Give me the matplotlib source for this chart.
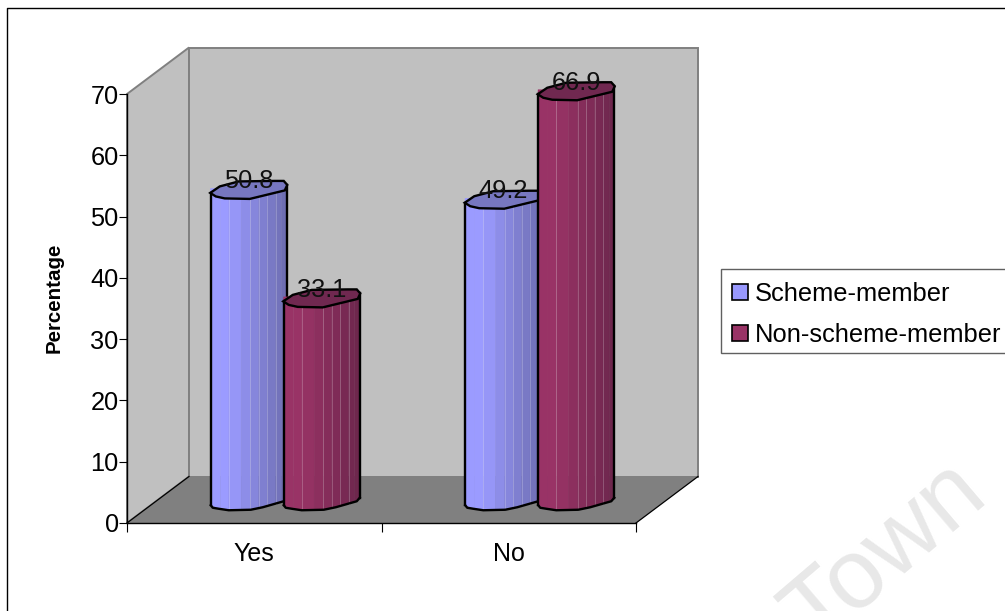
import numpy as np
import matplotlib
matplotlib.use('Agg')
import matplotlib.pyplot as plt
from matplotlib.lines import Line2D
from matplotlib.patches import Patch, Polygon, Rectangle

# Percentages per answer
categories = ['Yes', 'No']
scheme_member = [50.8, 49.2]
non_scheme_member = [33.1, 66.9]
y_ticks = [0, 10, 20, 30, 40, 50, 60, 70]
series_names = ['Scheme-member', 'Non-scheme-member']

plt.rcParams['font.family'] = ['Liberation Sans', 'DejaVu Sans']
W, H = 1005, 611
fig = plt.figure(figsize=(W / 100, H / 100), dpi=100, facecolor='white')


def fx(px):
    return px / W


def fy(py):
    return 1 - py / H


# Outer border of the chart area, runs off the right and bottom edges
fig.add_artist(Line2D([fx(7), fx(7), 1], [0, fy(8), fy(8)], color='black', lw=1.0))

fig.text(fx(815), fy(648), 'Town', fontsize=71, color='#e8e8e8', rotation=40.5,
         rotation_mode='anchor', ha='left', va='baseline', zorder=-5)

ax = fig.add_axes([fx(127), fy(523), fx(509), 429 / H])
ax.set_xlim(0, 2)
ax.set_ylim(0, 70)
ax.patch.set_visible(False)

# Screen pixels to data units
px_x = 2 / 509
px_y = 70 / 429
depth_x = 62 * px_x
depth_y = 46.5 * px_y

# Side wall, back wall, floor
wall = '#c0c0c0'
edge = '#808080'
ax.add_patch(Polygon([(0, 0), (depth_x, depth_y), (depth_x, 70 + depth_y), (0, 70)],
                     fc=wall, ec=edge, lw=1.4, clip_on=False, zorder=1))
ax.add_patch(Polygon([(depth_x, depth_y), (2 + depth_x, depth_y),
                      (2 + depth_x, 70 + depth_y), (depth_x, 70 + depth_y)],
                     fc=wall, ec=edge, lw=1.4, clip_on=False, zorder=1))
ax.add_patch(Polygon([(0, 0), (2, 0), (2 + depth_x, depth_y), (depth_x, depth_y)],
                     fc='#808080', ec='none', clip_on=False, zorder=2))
ax.plot([0, depth_x], [0, depth_y], color='black', lw=0.9, clip_on=False, zorder=2.1)
ax.plot([2, 2 + depth_x], [0, depth_y], color='black', lw=0.9, clip_on=False, zorder=2.1)

# Faceted outline of the cylinder end, offsets in pixels around the centre
cap_dx = np.array([-38.5, -33, -24, 1, 36, 38.5, 35, 26, -10, -29])
cap_dy = np.array([4.5, 8, 10, 10.5, 2, -3.5, -7.5, -7.5, -7, -2])
base_dx = np.array([-38, -36, -30, -20, 2, 14, 35, 38])
base_dy = np.array([5.5, 8, 9, 10.5, 10, 7.5, 1.5, -2])

# Shading bands across the cylinder
band_edges = np.array([0, .13, .24, .40, .52, .63, .74, .85, .93, 1]) * 76.5 - 38.25
# Only some band borders catch the light
bright_bands = [2, 4, 5, 6, 7]


def shade(light, dark, t):
    light, dark = np.array(light), np.array(dark)
    return tuple((light + (dark - light) * t) / 255)


def draw_cylinder(x, value, light, dark, top_color, z):
    cx = x + depth_x / 2
    cy = value + depth_y / 2
    by = depth_y / 2
    for k in range(len(band_edges) - 1):
        x0, x1 = band_edges[k], band_edges[k + 1]
        y0, y1 = [np.interp(v, base_dx, base_dy) for v in (x0, x1)]
        t = max(0.0, ((x0 + x1) / 2 + 20) / 58)
        ax.add_patch(Polygon([(cx + x0 * px_x, cy), (cx + x1 * px_x, cy),
                              (cx + x1 * px_x, by - y1 * px_y), (cx + x0 * px_x, by - y0 * px_y)],
                             fc=shade(light, dark, t), ec=shade(light, dark, t), lw=0.3,
                             clip_on=False, zorder=z))
        if k in bright_bands:
            ax.plot([cx + x0 * px_x] * 2, [cy, by - y0 * px_y], color=(1, 1, 1, 0.22),
                    lw=0.7, clip_on=False, zorder=z + 0.1)
    # Silhouette of the body, then the end cap on top of it
    ax.plot(cx + base_dx * px_x, by - base_dy * px_y, color='black', lw=1.7,
            clip_on=False, zorder=z + 0.2, solid_joinstyle='round')
    ax.plot([cx + base_dx[0] * px_x] * 2, [by - base_dy[0] * px_y, cy - 4.5 * px_y],
            color='black', lw=1.7, clip_on=False, zorder=z + 0.2)
    ax.plot([cx + base_dx[-1] * px_x] * 2, [by - base_dy[-1] * px_y, cy + 3.5 * px_y],
            color='black', lw=1.7, clip_on=False, zorder=z + 0.2)
    ax.add_patch(Polygon(np.column_stack([cx + cap_dx * px_x, cy - cap_dy * px_y]),
                         fc=top_color, ec='black', lw=1.7, clip_on=False, zorder=z + 0.3))
    ax.text(cx, value + depth_y / 2 + 7 * px_y, f'{value:.1f}', ha='center', va='center',
            fontsize=18.3, color='#111111', zorder=20, clip_on=False)


blue = dict(light=(155, 155, 255), dark=(108, 108, 176), top_color='#7777c0')
maroon = dict(light=(153, 51, 102), dark=(108, 38, 76), top_color='#702850')
bar_shift = 36.5 * px_x

for i in range(len(categories)):
    draw_cylinder(i + 0.5 - bar_shift, scheme_member[i], z=5 + 2 * i, **blue)
    draw_cylinder(i + 0.5 + bar_shift, non_scheme_member[i], z=6 + 2 * i, **maroon)

for side in ['top', 'right']:
    ax.spines[side].set_visible(False)
for side in ['left', 'bottom']:
    ax.spines[side].set_color('black')
    ax.spines[side].set_linewidth(1.0)
    ax.spines[side].set_zorder(3)

ax.set_yticks(y_ticks)
ax.set_xticks([0, 1, 2])
ax.set_xticklabels([])
ax.set_xticks([0.5, 1.5], minor=True)
ax.set_xticklabels(categories, minor=True, fontsize=18)
ax.tick_params(axis='x', which='major', length=6.5, width=0.8)
ax.tick_params(axis='x', which='minor', length=0, pad=14)
ax.tick_params(axis='y', length=6, width=0.8, pad=0, labelsize=18.3)
ax.set_ylabel('Percentage', fontsize=14.8, fontweight='bold')
ax.yaxis.set_label_coords((54 - 127) / 509, (523 - 298) / 429)
ax.yaxis.label.set_va('center')

# Legend box runs past the right edge, so it is drawn on its own
fig.add_artist(Rectangle((fx(721), fy(353)), fx(300), (353 - 269) / H, transform=fig.transFigure,
                         fc='white', ec='#606060', lw=1.0, zorder=1))
handles = [Patch(fc='#9999ff', ec='black', lw=1.2), Patch(fc='#993366', ec='black', lw=1.2)]
leg = fig.legend(handles, series_names, loc='upper left', bbox_to_anchor=(fx(723), fy(273)),
                 bbox_transform=fig.transFigure, fontsize=18.4, frameon=False, borderaxespad=0,
                 borderpad=0.36, labelspacing=0.67, handlelength=0.6, handleheight=0.6,
                 handletextpad=0.3)
leg.set_zorder(2)

fig.savefig('out.png', dpi=100)
plt.close('all')
